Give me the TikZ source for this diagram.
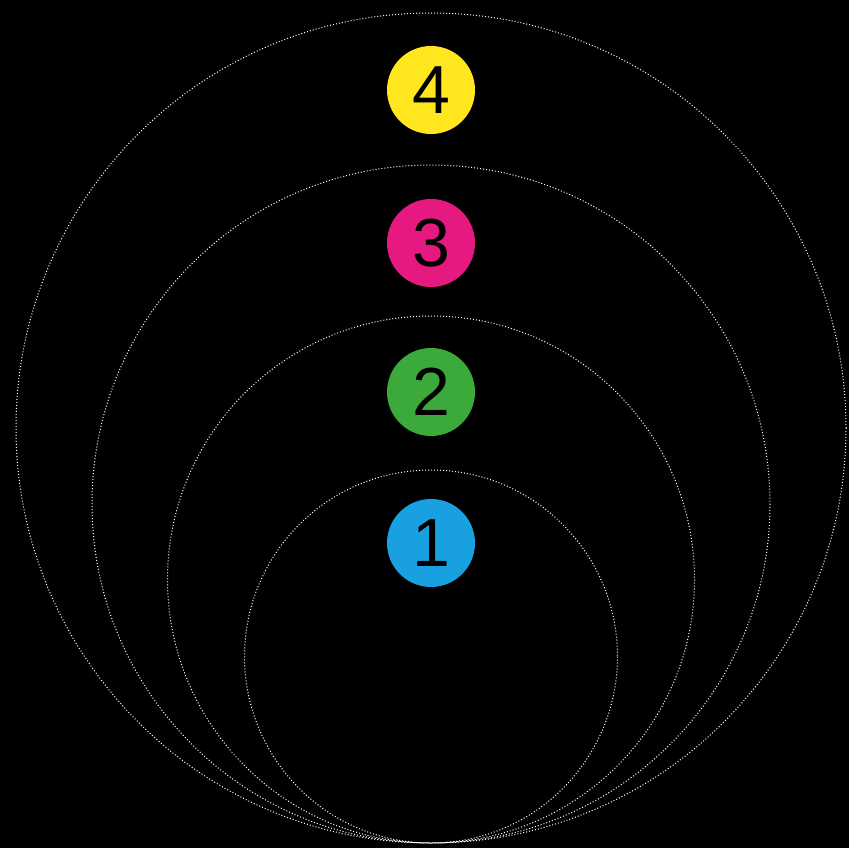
\documentclass[tikz,border=0pt]{standalone}
\usepackage{fontspec}
\setmainfont{Liberation Sans}
\definecolor{bluedot}{HTML}{18A0E0}
\definecolor{greendot}{HTML}{3CAA3A}
\definecolor{pinkdot}{HTML}{E5197F}
\definecolor{yellowdot}{HTML}{FFE61E}
\begin{document}
\begin{tikzpicture}[x=1pt,y=-1pt,
    ring/.style={draw=white!90,line width=1pt,dash pattern=on 1pt off 2pt},
    badge/.style={circle,fill=#1,minimum size=88pt,inner sep=0pt,
        font=\fontsize{68}{68}\selectfont,text=black}]
    \fill[black] (0,0) rectangle (849,848);
    \useasboundingbox (0,0) rectangle (849,848);
    % nested rings, all touching at the bottom
    \foreach \r in {186.5,263.5,339,415}
        \draw[ring] (431,843-\r) circle (\r);
    \node[badge=bluedot] (n1) at (431,543) {1};
    \node[badge=greendot] (n2) at (431,392) {2};
    \node[badge=pinkdot] (n3) at (431,243) {3};
    \node[badge=yellowdot] (n4) at (431,90) {4};
\end{tikzpicture}
\end{document}
